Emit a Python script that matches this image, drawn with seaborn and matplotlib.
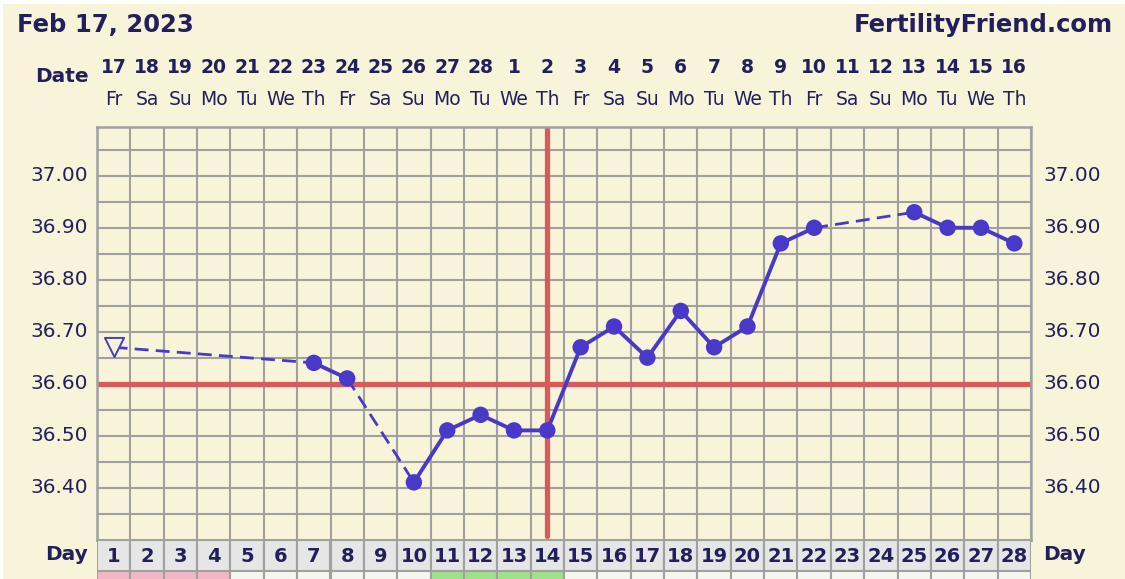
import numpy as np
import pandas as pd
import matplotlib
matplotlib.use("Agg")
import matplotlib.pyplot as plt
import matplotlib.transforms as mtransforms
from matplotlib.patches import Rectangle
import seaborn as sns

# ---------------- data ----------------
title_date = "Feb 17, 2023"
site_name = "FertilityFriend.com"
cycle_days = list(range(1, 29))
dates = ["17", "18", "19", "20", "21", "22", "23", "24", "25", "26", "27", "28", "1", "2",
         "3", "4", "5", "6", "7", "8", "9", "10", "11", "12", "13", "14", "15", "16"]
weekdays = ["Fr", "Sa", "Su", "Mo", "Tu", "We", "Th",
            "Fr", "Sa", "Su", "Mo", "Tu", "We", "Th",
            "Fr", "Sa", "Su", "Mo", "Tu", "We", "Th",
            "Fr", "Sa", "Su", "Mo", "Tu", "We", "Th"]
temp_days = [7, 8, 10, 11, 12, 13, 14, 15, 16, 17, 18, 19, 20, 21, 22, 25, 26, 27, 28]
temps = [36.64, 36.61, 36.41, 36.51, 36.54, 36.51, 36.51, 36.67, 36.71, 36.65, 36.74,
         36.67, 36.71, 36.87, 36.90, 36.93, 36.90, 36.90, 36.87]
open_days = [1]
open_temps = [36.67]
coverline = 36.60
ovulation_day = 14
temp_ticks = [36.40, 36.50, 36.60, 36.70, 36.80, 36.90, 37.00]
day_flags = ["pink"] * 4 + ["plain"] * 6 + ["green"] * 4 + ["plain"] * 14

# ---------------- style ----------------
W, H = 1125, 579
BG = "#F8F4D9"
NAVY = "#231F5C"
GRID = "#A0A0A0"
RED = "#D85A5A"
BLUE = "#4A38C8"
FLAG_COLORS = {"pink": "#F3B6C6", "green": "#9FE18A", "plain": "#F6F6F1"}

sns.set_style("white")
plt.rcParams["font.family"] = ["DejaVu Sans"]


def fx(px):
    return px / W


def fy(py):
    return 1 - py / H


fig = plt.figure(figsize=(W / 100, H / 100), dpi=100)
fig.patch.set_facecolor("white")
fig.patches.append(Rectangle((fx(3), 0), 1, fy(4), transform=fig.transFigure,
                             facecolor=BG, edgecolor="none", zorder=-10))

L, R = 97, 1031
TOP, BOT = 127, 539.5
ax = fig.add_axes([fx(L), fy(BOT), fx(R - L), (BOT - TOP) / H])
ax.set_facecolor(BG)
ax.set_xlim(0.5, 28.5)
ax.set_ylim(36.30, 37.094)

# grid
ax.set_xticks(np.arange(0.5, 29, 1))
ax.set_yticks(np.round(np.arange(36.30, 37.06, 0.05), 2))
ax.set_xticklabels([])
ax.set_yticklabels([])
ax.tick_params(length=0)
ax.grid(True, color=GRID, lw=1.5, zorder=0)
ax.set_axisbelow(True)
for s in ax.spines.values():
    s.set_color(GRID)
    s.set_linewidth(1.8)

# red lines
ax.axhline(coverline, color=RED, lw=3.8, zorder=2)
ax.axvline(ovulation_day, ymin=0.009, ymax=1, color=RED, lw=3.8, zorder=2)

# temperature line
all_days = open_days + temp_days
all_temps = open_temps + temps
df = pd.DataFrame({"day": all_days, "temp": all_temps})
df["run"] = (df["day"].diff() != 1).cumsum()
for _, g in df.groupby("run"):
    if len(g) > 1:
        sns.lineplot(data=g, x="day", y="temp", ax=ax, color=BLUE, lw=2.8,
                     zorder=4, sort=False, estimator=None)
for i in range(len(df) - 1):
    if df["day"].iloc[i + 1] - df["day"].iloc[i] > 1:
        seg = df.iloc[i:i + 2]
        sns.lineplot(data=seg, x="day", y="temp", ax=ax, color=BLUE, lw=2.0,
                     linestyle=(0, (5, 2.6)), zorder=4, sort=False, estimator=None)

sns.scatterplot(x=temp_days, y=temps, ax=ax, color=BLUE, s=140, edgecolor="none",
                zorder=5, legend=False)
sns.scatterplot(x=open_days, y=open_temps, ax=ax, marker="v", s=190, color=BLUE,
                zorder=5, legend=False)
tri = ax.collections[-1]
tri.set_facecolor(BG)
tri.set_edgecolor(BLUE)
tri.set_linewidth(1.4)
ax.set_xlabel("")
ax.set_ylabel("")

# temperature labels (left and right)
tr_l = mtransforms.blended_transform_factory(fig.transFigure, ax.transData)
for t in temp_ticks:
    ax.text(fx(88), t, f"{t:.2f}", transform=tr_l, ha="right", va="center",
            fontsize=14.5, color=NAVY)
    ax.text(fx(1043), t, f"{t:.2f}", transform=tr_l, ha="left", va="center",
            fontsize=14.5, color=NAVY)

# header texts
fig.text(fx(17), fy(32), title_date, ha="left", va="baseline", fontsize=17.5,
         fontweight="bold", color=NAVY)
fig.text(fx(1113), fy(32), site_name, ha="right", va="baseline", fontsize=17.5,
         fontweight="bold", color=NAVY)
fig.text(fx(89), fy(82), "Date", ha="right", va="baseline", fontsize=14.5,
         fontweight="bold", color=NAVY)
tr_top = mtransforms.blended_transform_factory(ax.transData, fig.transFigure)
for d, dt, wd in zip(cycle_days, dates, weekdays):
    ax.text(d, fy(73), dt, transform=tr_top, ha="center", va="baseline",
            fontsize=13.5, fontweight="bold", color=NAVY)
    ax.text(d, fy(105), wd, transform=tr_top, ha="center", va="baseline",
            fontsize=13.5, color=NAVY)

# day row
DR_T, DR_B = BOT, 571
ax_day = fig.add_axes([fx(L), fy(DR_B), fx(R - L), (DR_B - DR_T) / H])
ax_day.bar(cycle_days, [1] * 28, width=1, color="#E6E6E6", edgecolor=GRID, lw=1.5)
ax_day.set_xlim(0.5, 28.5)
ax_day.set_ylim(0, 1)
ax_day.axis("off")
for d in cycle_days:
    ax_day.text(d, 0.47, str(d), ha="center", va="center", fontsize=14,
                fontweight="bold", color=NAVY)
fig.text(fx(88), fy(555), "Day", ha="right", va="center", fontsize=14.5,
         fontweight="bold", color=NAVY)
fig.text(fx(1043), fy(555), "Day", ha="left", va="center", fontsize=14.5,
         fontweight="bold", color=NAVY)

# flag row (partly cut off at the bottom)
FR_T, FR_B = DR_B, 605
ax_flag = fig.add_axes([fx(L), fy(FR_B), fx(R - L), (FR_B - FR_T) / H])
ax_flag.bar(cycle_days, [1] * 28, width=1,
            color=[FLAG_COLORS[f] for f in day_flags], edgecolor=GRID, lw=1.5)
ax_flag.set_xlim(0.5, 28.5)
ax_flag.set_ylim(0, 1)
ax_flag.axis("off")

fig.savefig("out.png", dpi=100, facecolor=fig.get_facecolor())
